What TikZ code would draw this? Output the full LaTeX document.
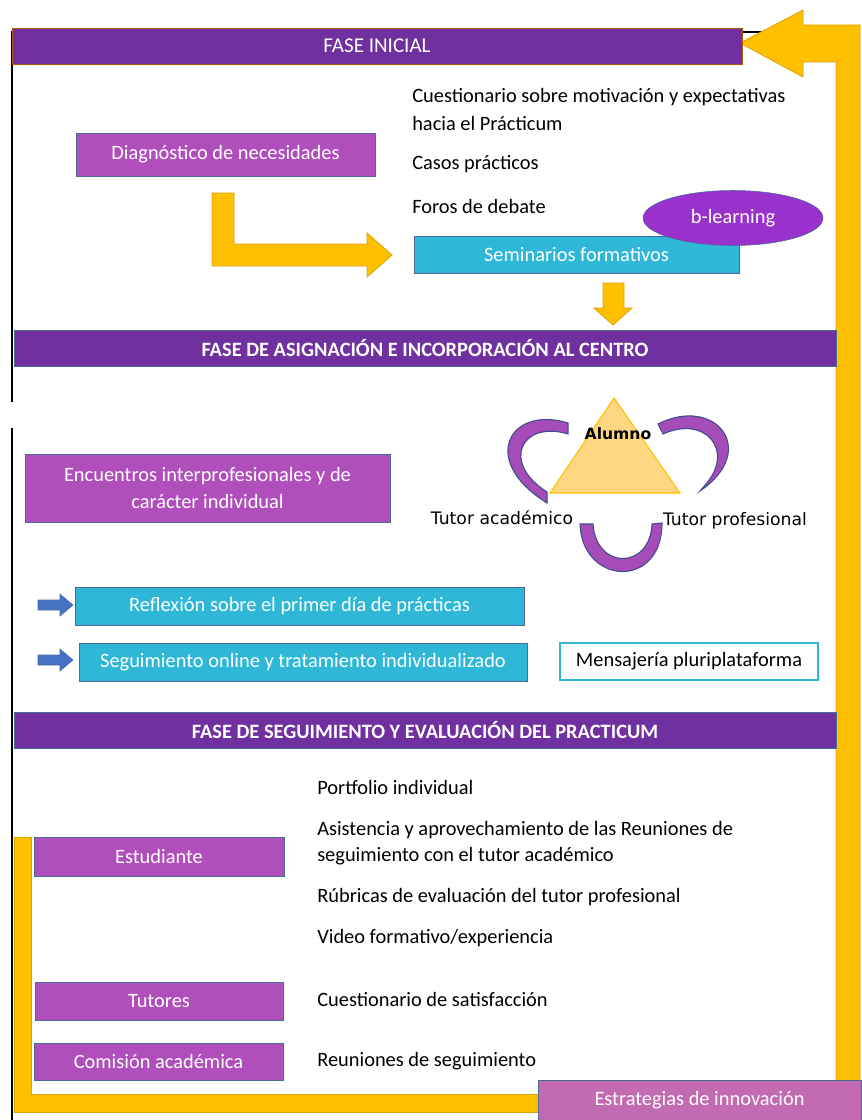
\documentclass[tikz,border=0pt]{standalone}
\usepackage{fontspec}
\setmainfont{Carlito}
\newfontfamily\trifont{DejaVu Sans}
\usetikzlibrary{shapes.geometric}
\definecolor{fasemorado}{HTML}{7030A0}
\definecolor{lila}{HTML}{B04FBB}
\definecolor{cian}{HTML}{2FB7D8}
\definecolor{bordeazul}{HTML}{4A6A9A}
\definecolor{amarillo}{HTML}{FFC000}
\definecolor{amarilloborde}{HTML}{D9A300}
\definecolor{triangulo}{HTML}{FFD782}
\definecolor{blearn}{HTML}{9932CC}
\definecolor{flechaazul}{HTML}{4472C4}
\definecolor{rosa}{HTML}{C36BB2}
\definecolor{cinta}{HTML}{A64CB8}
\definecolor{cintaborde}{HTML}{3E4D8C}
\begin{document}
\begin{tikzpicture}[x=0.75pt,y=-0.75pt,
    font=\fontsize{15.3}{20}\selectfont,
    pxw/.style={minimum width=#1*0.75pt},
    pxh/.style={minimum height=#1*0.75pt},
    fasebar/.style={fill=fasemorado,draw=bordeazul,text=white,inner sep=0pt,font=\fontsize{15.3}{20}\selectfont\bfseries,pxh=36},
    lilabox/.style={fill=lila,draw=bordeazul,text=white,inner sep=0pt},
    cianbox/.style={fill=cian,draw=bordeazul,text=white,inner sep=0pt},
    txt/.style={anchor=west,inner sep=0pt},
    amarilla/.style={fill=amarillo,draw=amarilloborde,line width=0.6pt,line join=miter},
    cintas/.style={fill=cinta,draw=cintaborde,line width=0.8pt}]
\useasboundingbox (0,0) rectangle (861,1120);
\draw[line width=1pt] (12,402) -- (12,32) -- (836,32);
\draw[line width=1pt] (12,428) -- (12,1120);
\draw[amarilla] (860,25) -- (803,25) -- (803,10) -- (740,43) -- (803,77) -- (803,62) -- (836,62) -- (836,1100) -- (860,1100) -- cycle;
\draw[amarilla] (14,837) -- (31,837) -- (31,1094) -- (540,1094) -- (540,1112) -- (14,1112) -- cycle;
\node[fasebar,draw=orange!70!black,font=\fontsize{15.8}{20}\selectfont,pxw=730] (fase1) at (377,46) {FASE INICIAL};
\node[txt] (cuest1) at (412,97) {Cuestionario sobre motivación y expectativas};
\node[txt] (cuest2) at (412,123) {hacia el Prácticum};
\node[lilabox,pxw=299,pxh=43] (diag) at (225.5,154.5) {Diagnóstico de necesidades};
\node[txt] (casos) at (412,164) {Casos prácticos};
\node[txt] (foros) at (412,206) {Foros de debate};
\node[cianbox,pxw=325,pxh=37] (sem) at (576.5,254.5) {Seminarios formativos};
\node[ellipse,fill=blearn,draw=bordeazul,text=white,pxw=180,pxh=55,inner sep=0pt] (blearning) at (733,218) {b-learning};
\draw[amarilla] (212,193) -- (234,193) -- (234,244) -- (367,244) -- (367,233) -- (392,255) -- (367,277) -- (367,266) -- (212,266) -- cycle;
\draw[amarilla] (603,283) -- (624,283) -- (624,308) -- (632,308) -- (613,325) -- (594,308) -- (603,308) -- cycle;
\node[fasebar,pxw=822] (fase2) at (425,348) {FASE DE ASIGNACIÓN E INCORPORACIÓN AL CENTRO};
\node[lilabox,pxw=365,pxh=68,align=center] (encuentros) at (207.5,488) {Encuentros interprofesionales y de\\carácter individual};
\draw[fill=triangulo,draw=amarillo,line width=0.8pt] (614,398) -- (680,493) -- (550,493) -- cycle;
\node[font=\trifont\fontsize{11.7}{13}\selectfont\bfseries] (alumno) at (618,434) {Alumno};
\node[font=\trifont\fontsize{12.9}{15}\selectfont] (tacad) at (502,518) {Tutor académico};
\node[font=\trifont\fontsize{12.9}{15}\selectfont] (tprof) at (735,521) {Tutor profesional};
\draw[cintas] (568,423) .. controls (510,405) and (478,460) .. (547,503) -- (547,492) .. controls (500,462) and (522,420) .. (568,434) -- cycle;
\draw[cintas] (658,424) .. controls (715,395) and (760,450) .. (700,491) -- (706,484) .. controls (735,450) and (705,415) .. (663,434) -- cycle;
\draw[cintas] (580,524) .. controls (582,585) and (662,590) .. (662,523) -- (652,524) .. controls (650,570) and (596,570) .. (593,524) -- cycle;
\node[cianbox,pxw=449,pxh=38] (reflexion) at (299.5,606) {Reflexión sobre el primer día de prácticas};
\node[cianbox,pxw=448,pxh=38] (seguim) at (303,662) {Seguimiento online y tratamiento individualizado};
\node[draw=cian,fill=white,line width=0.8pt,pxw=258,pxh=37,inner sep=0pt] (mensajeria) at (689,661.5) {Mensajería pluriplataforma};
\draw[fill=flechaazul,draw=bordeazul] (38,600) -- (60,600) -- (60,594) -- (73,605) -- (60,616) -- (60,610) -- (38,610) -- cycle;
\draw[fill=flechaazul,draw=bordeazul] (38,655) -- (60,655) -- (60,649) -- (73,660) -- (60,671) -- (60,665) -- (38,665) -- cycle;
\node[fasebar,pxw=822] (fase3) at (425,730) {FASE DE SEGUIMIENTO Y EVALUACIÓN DEL PRACTICUM};
\node[txt] (portfolio) at (317,787) {Portfolio individual};
\node[txt] (asist1) at (317,830) {Asistencia y aprovechamiento de las Reuniones de};
\node[txt] (asist2) at (317,856) {seguimiento con el tutor académico};
\node[lilabox,pxw=250,pxh=39] (estudiante) at (159,856.5) {Estudiante};
\node[txt] (rubricas) at (317,897) {Rúbricas de evaluación del tutor profesional};
\node[txt] (video) at (317,938) {Video formativo/experiencia};
\node[lilabox,pxw=248,pxh=38] (tutores) at (159,1001) {Tutores};
\node[txt] (satisf) at (317,999) {Cuestionario de satisfacción};
\node[lilabox,pxw=249,pxh=37] (comision) at (158.5,1061.5) {Comisión académica};
\node[txt] (reuniones) at (317,1061) {Reuniones de seguimiento};
\node[fill=rosa,draw=bordeazul,text=white,pxw=323,pxh=40,inner sep=0pt] (estrategias) at (699.5,1100) {Estrategias de innovación};
\end{tikzpicture}
\end{document}
